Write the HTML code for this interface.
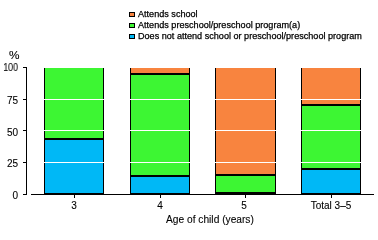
<!DOCTYPE html>
<html><head><meta charset="utf-8">
<style>
html,body{margin:0;padding:0;background:#fff;width:378px;height:227px;overflow:hidden;position:relative}
.t{position:absolute;font-family:"Liberation Sans",sans-serif;color:#000;white-space:nowrap;line-height:1;will-change:transform;-webkit-text-stroke:0.1px #000}
.lg{font-size:9px;-webkit-text-stroke:0.25px #000;transform-origin:0 0;transform:scaleX(1.01)}
.yl{font-size:10px;text-align:right;width:30px}
.xl{font-size:10px;text-align:center;width:80px}
svg{position:absolute;left:0;top:0}
</style></head><body>
<svg width="378" height="227" shape-rendering="crispEdges">
  <!-- legend squares -->
  <rect x="129" y="12" width="6" height="5" fill="#000"/><rect x="130" y="13" width="4" height="3" fill="#F8843F"/>
  <rect x="129" y="23" width="6" height="5" fill="#000"/><rect x="130" y="24" width="4" height="3" fill="#3DF633"/>
  <rect x="129" y="34" width="6" height="5" fill="#000"/><rect x="130" y="35" width="4" height="3" fill="#00B8F6"/>
  <!-- bar 1 -->
  <rect x="44" y="68" width="60" height="126" fill="#000"/>
  <rect x="45" y="68" width="58" height="70" fill="#3DF633"/>
  <rect x="45" y="140" width="58" height="53" fill="#00B8F6"/>
  <!-- bar 2 -->
  <rect x="130" y="68" width="60" height="126" fill="#000"/>
  <rect x="131" y="68" width="58" height="5" fill="#F8843F"/>
  <rect x="131" y="75" width="58" height="100" fill="#3DF633"/>
  <rect x="131" y="177" width="58" height="16" fill="#00B8F6"/>
  <!-- bar 3 -->
  <rect x="215" y="68" width="61" height="126" fill="#000"/>
  <rect x="216" y="68" width="59" height="106" fill="#F8843F"/>
  <rect x="216" y="176" width="59" height="16" fill="#3DF633"/>
  <!-- bar 4 -->
  <rect x="301" y="68" width="60" height="126" fill="#000"/>
  <rect x="302" y="68" width="58" height="36" fill="#F8843F"/>
  <rect x="302" y="106" width="58" height="62" fill="#3DF633"/>
  <rect x="302" y="170" width="58" height="23" fill="#00B8F6"/>
  <!-- gridlines -->
  <rect x="27" y="99" width="347" height="1" fill="#fff"/>
  <rect x="27" y="130" width="347" height="1" fill="#fff"/>
  <rect x="27" y="162" width="347" height="1" fill="#fff"/>
  <!-- axes -->
  <rect x="26" y="67" width="1" height="128" fill="#000"/>
  <rect x="23" y="67" width="3" height="1" fill="#000"/>
  <rect x="23" y="99" width="3" height="1" fill="#000"/>
  <rect x="23" y="130" width="3" height="1" fill="#000"/>
  <rect x="23" y="162" width="3" height="1" fill="#000"/>
  <rect x="23" y="194" width="3" height="1" fill="#000"/>
  <rect x="31" y="194" width="343" height="1" fill="#000"/>
  <rect x="74" y="195" width="1" height="3" fill="#000"/>
  <rect x="160" y="195" width="1" height="3" fill="#000"/>
  <rect x="245" y="195" width="1" height="3" fill="#000"/>
  <rect x="331" y="195" width="1" height="3" fill="#000"/>
</svg>
<div class="t lg" style="left:138px;top:10px">Attends school</div>
<div class="t lg" style="left:138px;top:21px">Attends preschool/preschool program(a)</div>
<div class="t lg" style="left:138px;top:32px">Does not attend school or preschool/preschool program</div>
<div class="t yl" style="top:51px;text-align:left;left:9px;transform-origin:0 0;transform:scaleX(1.18)">%</div>
<div class="t yl" style="left:-12px;top:63px;transform-origin:100% 0;transform:scaleX(0.88)">100</div>
<div class="t yl" style="left:-12px;top:96px">75</div>
<div class="t yl" style="left:-12px;top:128px">50</div>
<div class="t yl" style="left:-12px;top:159px">25</div>
<div class="t yl" style="left:-12px;top:191px">0</div>
<div class="t xl" style="left:34px;top:201px">3</div>
<div class="t xl" style="left:120px;top:201px">4</div>
<div class="t xl" style="left:204px;top:201px">5</div>
<div class="t xl" style="left:291px;top:201px">Total 3&ndash;5</div>
<div class="t" style="left:166px;top:215px;font-size:10px;transform-origin:0 0;transform:scaleX(1.02)">Age of child (years)</div>
</body></html>
